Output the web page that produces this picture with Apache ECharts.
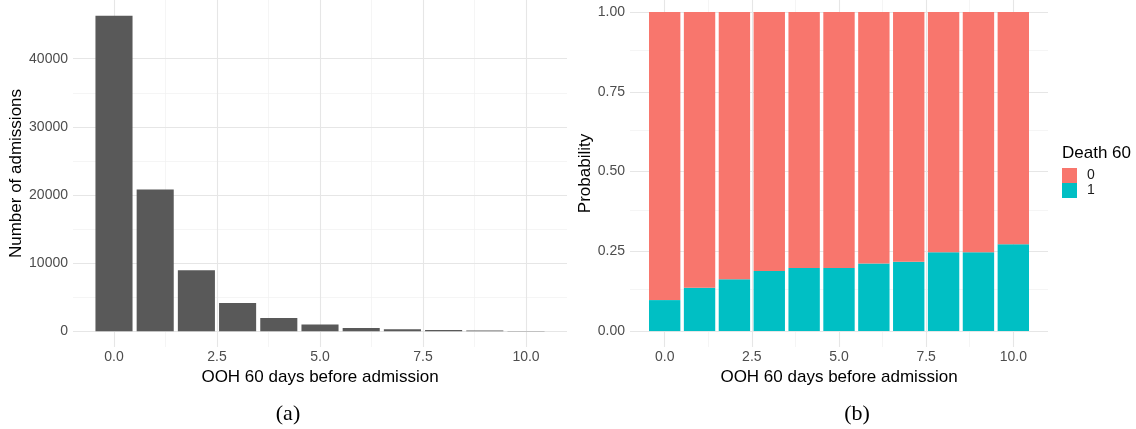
<!DOCTYPE html>
<html>
<head>
<meta charset="utf-8">
<script src="https://cdn.jsdelivr.net/npm/echarts@6/dist/echarts.min.js"></script>
<style>
  html, body { margin: 0; padding: 0; background: #ffffff; }
  #chart { width: 1136px; height: 429px; }
</style>
</head>
<body>
<div id="chart"></div>
<script>
// Out-of-hours contacts in the 60 days before admission
const days = [0, 1, 2, 3, 4, 5, 6, 7, 8, 9, 10];
// (a) number of admissions per OOH count
const admissions = [46300, 20800, 8960, 4130, 1930, 980, 470, 290, 190, 110, 40];
// (b) share of admissions by 60-day death outcome
const death1 = [0.097, 0.136, 0.162, 0.188, 0.198, 0.198, 0.212, 0.217, 0.247, 0.247, 0.272];
const death0 = [0.903, 0.864, 0.838, 0.812, 0.802, 0.802, 0.788, 0.783, 0.753, 0.753, 0.728];
// tick labels
const xTicks = [0, 2.5, 5, 7.5, 10];
const countTicks = [0, 10000, 20000, 30000, 40000];
const probTicks = [0, 0.25, 0.5, 0.75, 1];

const FONT = 'Liberation Sans';
const GRID_L = { left: 73, top: 0, width: 494, height: 347 };
const GRID_R = { left: 630, top: 0, width: 418, height: 347 };

// bars are 0.9 units wide; axes padded by 5% of the data range on each side
const BAR_W = 0.9;
const xLo = days[0] - BAR_W / 2, xHi = days[days.length - 1] + BAR_W / 2;
const xPad = (xHi - xLo) * 0.05;
const xMin = xLo - xPad, xMax = xHi + xPad;
const cMax = Math.max(...admissions);
const cMin = -cMax * 0.05, cTop = cMax * 1.05;
// panel (b) is clipped slightly below its padded upper limit
const pMin = -0.05, pMax = 1.0376;

// the stacked bars of panel (b) sit on a category grid spanning days[0]-0.5 .. days[last]+0.5
const pxPerUnitR = GRID_R.width / (xMax - xMin);
const GRID_RB = {
  left: GRID_R.left + (days[0] - 0.5 - xMin) * pxPerUnitR,
  top: GRID_R.top,
  width: days.length * pxPerUnitR,
  height: GRID_R.height
};

function mids(t) {
  const out = [];
  for (let i = 0; i < t.length - 1; i++) out.push((t[i] + t[i + 1]) / 2);
  return out;
}
function gridLines(xMajor, yMajor) {
  const major = { color: '#e6e6e6', width: 1.1, type: 'solid' };
  const minor = { color: '#f0f0f0', width: 0.7, type: 'solid' };
  const d = [];
  mids(xMajor).forEach(v => d.push({ xAxis: v, lineStyle: minor }));
  mids(yMajor).forEach(v => d.push({ yAxis: v, lineStyle: minor }));
  xMajor.forEach(v => d.push({ xAxis: v, lineStyle: major }));
  yMajor.forEach(v => d.push({ yAxis: v, lineStyle: major }));
  return {
    silent: true, z: 1, symbol: ['none', 'none'], animation: false,
    label: { show: false }, emphasis: { disabled: true }, data: d
  };
}

const tickLabel = { color: '#4d4d4d', fontSize: 14, fontFamily: FONT };
const axisTitle = { color: '#000000', fontSize: 17, fontFamily: FONT };

function xAxisDef(gridIndex) {
  return {
    type: 'value', gridIndex, min: xMin, max: xMax,
    axisLine: { show: false }, axisTick: { show: false },
    splitLine: { show: false },
    axisLabel: Object.assign({ customValues: xTicks, margin: 3,
      formatter: v => v.toFixed(1) }, tickLabel),
    name: 'OOH 60 days before admission', nameLocation: 'middle', nameGap: 17,
    nameTextStyle: axisTitle
  };
}

const barWL = BAR_W * GRID_L.width / (xMax - xMin);

const option = {
  backgroundColor: '#ffffff',
  animation: false,
  grid: [
    Object.assign({ containLabel: false }, GRID_L),
    Object.assign({ containLabel: false }, GRID_R),
    Object.assign({ containLabel: false }, GRID_RB)
  ],
  xAxis: [
    xAxisDef(0),
    xAxisDef(1),
    {
      type: 'category', gridIndex: 2, data: days.map(String), boundaryGap: true,
      show: false
    }
  ],
  yAxis: [
    {
      type: 'value', gridIndex: 0, min: cMin, max: cTop,
      axisLine: { show: false }, axisTick: { show: false }, splitLine: { show: false },
      axisLabel: Object.assign({ customValues: countTicks, margin: 5,
        formatter: v => String(v) }, tickLabel),
      name: 'Number of admissions', nameLocation: 'middle', nameGap: 38,
      nameTextStyle: axisTitle
    },
    {
      type: 'value', gridIndex: 1, min: pMin, max: pMax,
      axisLine: { show: false }, axisTick: { show: false }, splitLine: { show: false },
      axisLabel: Object.assign({ customValues: probTicks, margin: 5,
        formatter: v => v.toFixed(2) }, tickLabel),
      name: 'Probability', nameLocation: 'middle', nameGap: 29,
      nameTextStyle: axisTitle
    },
    {
      type: 'value', gridIndex: 2, min: pMin, max: pMax, show: false,
      splitLine: { show: false }
    }
  ],
  legend: {
    orient: 'vertical', left: 1062, top: 168, padding: 0,
    itemWidth: 15, itemHeight: 15, itemGap: 0, icon: 'rect',
    data: ['0', '1'],
    textStyle: { fontSize: 14, fontFamily: FONT, color: '#1a1a1a', lineHeight: 15,
      padding: [0, 0, 0, 5] }
  },
  graphic: [
    { type: 'text', left: 1062, top: 145,
      style: { text: 'Death 60', fontSize: 17, fontFamily: FONT, fill: '#000000' } },
    { type: 'text', x: 288, y: 414,
      style: { text: '(a)', fontSize: 22, fontFamily: 'Liberation Serif', fill: '#000000',
        align: 'center', verticalAlign: 'middle' } },
    { type: 'text', x: 857, y: 414,
      style: { text: '(b)', fontSize: 22, fontFamily: 'Liberation Serif', fill: '#000000',
        align: 'center', verticalAlign: 'middle' } }
  ],
  series: [
    {
      name: 'admissions', type: 'bar', xAxisIndex: 0, yAxisIndex: 0,
      barWidth: barWL, z: 2,
      itemStyle: { color: '#595959' },
      data: days.map((d, i) => [d, admissions[i]]),
      markLine: gridLines(xTicks, countTicks)
    },
    {
      name: 'grid-b', type: 'line', xAxisIndex: 1, yAxisIndex: 1,
      data: [], silent: true, showSymbol: false,
      markLine: gridLines(xTicks, probTicks)
    },
    {
      name: '1', type: 'bar', xAxisIndex: 2, yAxisIndex: 2, stack: 'death',
      barWidth: '90%', z: 2,
      itemStyle: { color: '#00BFC4' },
      data: death1
    },
    {
      name: '0', type: 'bar', xAxisIndex: 2, yAxisIndex: 2, stack: 'death',
      barWidth: '90%', z: 2,
      itemStyle: { color: '#F8766D' },
      data: death0
    }
  ]
};

const chart = echarts.init(document.getElementById('chart'), null, { renderer: 'canvas' });
chart.setOption(option);
</script>
</body>
</html>
